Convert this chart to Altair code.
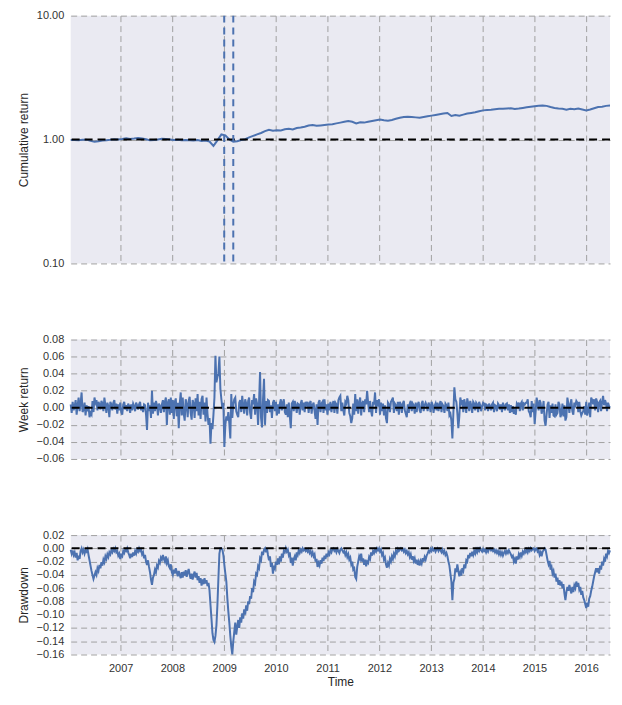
import altair as alt
import pandas as pd

# ---------------- data ----------------
WEEK_RETURN = [
    .004,-.006,.007,-.003,.002,.009,-.008,.003,.012,-.004,.005,.018,-.005,-.002,.006,-.009,.003,-.004,.002,-.011,
    -.006,-.008,.008,-.005,.012,.006,.009,-.003,.007,.004,-.002,.008,.005,-.004,.012,.003,-.006,.006,.002,-.011,
    .007,.004,-.003,.006,.009,-.002,.005,-.007,.004,-.003,.006,-.005,-.008,.004,.007,-.002,.003,-.004,.005,.002,
    -.006,.004,-.003,.005,.002,-.004,.006,.003,-.002,.004,.007,-.003,.002,-.005,.004,.003,-.008,-.026,.006,-.004,
    .003,-.012,.020,-.007,.006,-.004,.008,.003,-.009,.005,.002,-.006,.004,.009,-.005,.007,.012,-.020,.006,.010,
    -.008,.012,-.006,.009,-.013,.007,.011,-.010,.006,-.024,.005,.018,-.009,.012,-.007,-.015,.010,.004,-.011,.008,
    .013,-.006,-.014,.009,.005,-.012,.011,-.004,.016,-.009,.007,-.013,.010,.014,-.008,.006,-.016,.012,-.007,-.020,
    -.012,-.042,-.018,-.025,-.008,.012,.061,.030,.036,.040,.060,.022,.010,-.001,.006,-.046,-.020,-.010,-.015,-.005,
    -.018,-.036,.016,-.012,.004,.010,.012,-.004,-.008,-.011,.006,.009,-.005,.014,.003,-.007,.010,.005,-.009,.008,
    .012,-.006,-.013,.009,.004,.016,-.008,.011,.005,-.020,.007,.042,-.012,-.023,.010,.034,-.020,.008,-.006,.009,
    .008,-.005,.003,-.012,.006,.009,-.004,.007,-.009,.004,-.007,.005,.010,-.003,.006,.010,-.005,-.008,.004,-.011,
    .006,-.009,-.024,.005,.007,-.004,.008,.003,-.006,.005,.004,-.008,.005,.009,-.003,.006,-.005,.007,.004,.007,
    -.006,.005,.008,-.007,.003,.006,-.004,-.013,.004,-.020,.006,.009,-.005,.005,.007,-.006,.010,-.003,.004,-.008,
    .005,-.003,.007,-.005,.003,.008,-.006,.006,.004,-.007,.009,.012,.014,-.004,.006,-.003,-.009,.007,.005,.014,
    .009,-.006,-.010,-.018,-.012,.005,-.008,.016,-.004,.010,-.007,.006,.012,-.009,.005,.008,-.005,.010,.004,.020,
    .006,-.005,.008,-.004,-.010,.007,.004,.018,-.006,.009,.005,.010,-.008,.006,-.004,.005,-.009,.003,-.012,-.018,
    .006,.004,-.005,.007,.009,.012,-.006,.005,.003,-.004,.007,-.008,.007,.004,-.006,.005,.008,-.003,-.007,-.011,
    .004,-.006,.005,.008,-.004,.005,.003,-.007,.006,-.005,.004,.007,-.003,-.006,.005,.008,-.004,.003,.006,.003,
    -.004,.006,.003,-.005,.007,.004,-.006,.002,.005,-.003,.006,-.004,.003,.008,-.005,.004,.002,-.006,.005,.003,
    -.004,.006,-.009,-.007,-.015,-.036,-.006,.024,.010,.007,-.006,-.024,-.010,.012,.006,.009,-.005,.010,.004,-.006,
    .011,.005,-.004,.008,.003,-.006,.007,.005,-.003,.006,.004,-.005,.007,.003,-.004,.002,.006,.005,-.003,.004,
    .003,-.004,.005,.002,-.003,.004,.006,-.005,.003,.002,-.004,.005,.003,-.002,.004,-.005,.006,.002,-.003,.004,
    .005,-.003,.004,-.006,.003,-.005,.002,-.007,-.004,-.008,.005,.003,.006,-.004,.005,.007,-.003,.005,.004,.006,
    .006,.010,-.004,-.006,-.011,.008,-.005,.005,-.019,-.004,.012,.005,-.003,.009,.006,-.007,-.002,.008,-.015,-.021,
    -.008,.004,.007,-.012,.003,-.006,.005,-.009,-.010,.004,-.008,-.006,.007,.004,-.011,-.007,.005,-.010,.003,-.015,
    -.011,.012,.005,-.006,.004,.010,-.004,-.008,.006,.003,.008,.006,-.005,.007,-.004,-.009,-.006,-.004,.002,-.008,
    .007,-.009,-.004,.006,-.011,.012,.009,.004,.010,-.003,.011,.007,-.005,.006,.008,-.004,.007,.014,.003,.009,
    .005,-.004,.006,.002,.000,
]

DRAWDOWN = [
    -.002,-.008,-.003,-.010,-.006,-.014,-.007,-.018,-.011,-.016,-.004,.000,-.006,-.002,-.008,-.003,-.005,-.001,-.010,-.018,
    -.026,-.034,-.040,-.046,-.041,-.036,-.040,-.030,-.034,-.025,-.030,-.021,-.026,-.017,-.021,-.012,-.016,-.009,-.013,-.006,
    -.009,-.003,-.006,-.001,-.004,.000,-.006,-.004,-.011,-.008,-.016,-.010,-.012,-.004,-.007,-.002,-.004,.000,-.006,-.010,
    -.015,-.008,-.013,-.006,-.011,-.004,-.008,-.002,-.005,.000,-.004,-.002,-.009,-.006,-.015,-.010,-.020,-.025,-.018,-.028,
    -.036,-.047,-.055,-.044,-.040,-.032,-.036,-.026,-.029,-.019,-.022,-.014,-.017,-.010,-.016,-.020,-.012,-.022,-.018,-.027,
    -.030,-.024,-.036,-.040,-.032,-.038,-.030,-.036,-.042,-.034,-.040,-.045,-.036,-.044,-.035,-.041,-.033,-.043,-.036,-.031,
    -.040,-.046,-.038,-.047,-.040,-.035,-.044,-.037,-.048,-.042,-.052,-.045,-.056,-.047,-.054,-.045,-.053,-.048,-.057,-.052,
    -.063,-.085,-.106,-.128,-.138,-.141,-.132,-.116,-.085,-.045,-.008,.000,.000,-.002,-.010,-.025,-.038,-.050,-.075,-.095,
    -.112,-.132,-.148,-.160,-.140,-.126,-.112,-.130,-.118,-.108,-.120,-.104,-.112,-.098,-.106,-.092,-.100,-.086,-.094,-.080,
    -.084,-.072,-.076,-.060,-.066,-.050,-.053,-.038,-.040,-.027,-.030,-.015,-.018,-.005,-.010,-.002,.000,-.006,.000,-.010,
    -.018,-.012,-.028,-.022,-.038,-.026,-.030,-.020,-.025,-.015,-.024,-.012,-.020,-.008,-.014,-.004,-.006,.000,-.005,-.002,
    -.010,-.006,-.022,-.014,-.026,-.016,-.012,-.018,-.006,-.010,-.003,-.007,-.002,-.005,.000,-.003,-.001,-.004,-.002,-.005,
    -.002,-.007,-.004,-.010,-.006,-.012,-.009,-.020,-.016,-.028,-.022,-.026,-.018,-.023,-.014,-.019,-.011,-.016,-.008,-.013,
    -.006,-.009,-.003,-.006,-.001,.000,-.004,-.002,-.006,-.001,-.004,-.007,-.002,.000,-.003,-.006,-.004,-.010,-.006,-.013,
    -.009,-.017,-.014,-.024,-.020,-.032,-.030,-.043,-.046,-.028,-.020,-.012,-.016,-.008,-.020,-.015,-.025,-.017,-.027,-.020,
    -.022,-.013,-.016,-.006,-.011,-.004,-.007,-.002,-.005,.000,-.003,.000,-.005,-.002,-.010,-.007,-.017,-.014,-.024,-.029,
    -.022,-.026,-.016,-.020,-.012,-.016,-.008,-.012,-.004,-.007,-.001,-.004,-.002,.000,-.003,-.001,-.005,-.002,-.007,-.004,
    -.009,-.006,-.013,-.009,-.017,-.012,-.019,-.015,-.023,-.017,-.025,-.020,-.026,-.019,-.023,-.015,-.020,-.013,-.017,-.011,
    -.008,-.004,-.006,-.001,-.004,.000,-.003,-.001,-.005,-.002,.000,-.004,-.001,-.003,-.006,-.002,-.007,-.004,-.010,-.007,
    -.012,-.020,-.026,-.038,-.050,-.078,-.052,-.046,-.030,-.036,-.024,-.034,-.042,-.036,-.041,-.030,-.034,-.024,-.030,-.018,
    -.020,-.010,-.015,-.007,-.012,-.005,-.010,-.004,-.008,-.002,-.006,-.001,-.004,.000,-.003,-.005,-.001,-.004,-.002,-.006,
    -.002,-.005,-.001,.000,-.003,-.001,-.004,-.002,-.006,-.003,-.007,-.004,-.009,-.005,-.010,-.006,-.011,-.007,-.004,-.008,
    -.004,-.007,-.003,-.006,-.009,-.013,-.011,-.020,-.016,-.023,-.012,-.017,-.009,-.013,-.006,-.011,-.005,-.008,-.003,-.006,
    -.002,-.006,-.001,-.004,.000,-.003,-.001,.000,-.004,-.001,.000,-.005,-.003,-.010,-.006,-.012,-.005,-.003,.000,-.002,
    -.010,-.018,-.024,-.019,-.032,-.028,-.038,-.034,-.044,-.038,-.050,-.044,-.055,-.048,-.056,-.050,-.060,-.054,-.068,-.078,
    -.066,-.058,-.064,-.055,-.062,-.068,-.058,-.066,-.056,-.060,-.050,-.058,-.052,-.062,-.058,-.070,-.064,-.074,-.078,-.084,
    -.090,-.082,-.088,-.076,-.072,-.064,-.058,-.050,-.042,-.036,-.030,-.036,-.030,-.038,-.026,-.032,-.020,-.026,-.016,-.020,
    -.008,-.012,-.004,-.007,-.003,
]

CUM_RETURN = [
    .990,.992,.985,.995,.998,.975,.958,.968,.980,.988,
    .995,1.005,1.000,1.010,1.025,1.012,1.020,1.030,1.020,1.005,
    .985,.990,1.000,1.015,1.010,1.000,.990,.995,.985,.992,
    .988,.982,.990,.975,.980,.965,.890,.985,1.100,1.080,
    1.000,.960,.970,.990,1.005,1.040,1.070,1.100,1.130,1.170,
    1.200,1.180,1.190,1.185,1.210,1.220,1.205,1.240,1.250,1.270,
    1.300,1.310,1.290,1.300,1.310,1.320,1.330,1.350,1.370,1.390,
    1.410,1.390,1.350,1.380,1.370,1.390,1.410,1.430,1.450,1.430,
    1.420,1.440,1.470,1.500,1.520,1.530,1.520,1.510,1.500,1.520,
    1.540,1.560,1.580,1.600,1.620,1.640,1.550,1.580,1.560,1.590,
    1.620,1.640,1.660,1.690,1.720,1.730,1.740,1.755,1.770,1.770,
    1.780,1.790,1.765,1.780,1.800,1.820,1.840,1.860,1.870,1.880,
    1.870,1.830,1.800,1.780,1.770,1.740,1.770,1.760,1.780,1.750,
    1.720,1.750,1.790,1.830,1.840,1.870,1.880,
]

EVENT_DATES = ["2009-01-01", "2009-03-06"]
YEARS = list(range(2007, 2017))
CUM_TICKS = [0.1, 1.0, 10.0]
WEEK_TICKS = [-0.06, -0.04, -0.02, 0.0, 0.02, 0.04, 0.06, 0.08]
DD_TICKS = [-0.16, -0.14, -0.12, -0.10, -0.08, -0.06, -0.04, -0.02, 0.0, 0.02]

START = "2006-01-13"
END = (2016, 6, 17)

BLUE = "#4C72B0"
W = 542

df_week = pd.DataFrame({"date": pd.date_range(START, periods=len(WEEK_RETURN), freq="7D"),
                        "ret": WEEK_RETURN})
df_dd = pd.DataFrame({"date": pd.date_range(START, periods=len(DRAWDOWN), freq="7D"),
                      "dd": DRAWDOWN})
df_cum = pd.DataFrame({"date": pd.date_range(START, periods=len(CUM_RETURN), freq="28D"),
                       "cum": CUM_RETURN})
df_events = pd.DataFrame({"date": pd.to_datetime(EVENT_DATES)})

xscale = alt.Scale(domain=[alt.DateTime(year=2006, month=1, date=13),
                           alt.DateTime(year=END[0], month=END[1], date=END[2])], nice=False)
year_vals = [alt.DateTime(year=y, month=1, date=1) for y in YEARS]

hidden_x = alt.Axis(values=year_vals, tickCount=len(YEARS), labels=False, ticks=False,
                    title=None, grid=True)
shown_x = alt.Axis(values=year_vals, tickCount=len(YEARS), format="%Y", title="Time",
                   grid=True, labelPadding=8, titlePadding=3)


def y_axis(vals, title):
    return alt.Axis(values=vals, tickCount=len(vals), format=".2f", title=title,
                    labelOverlap=False)


def zero_rule(val):
    return alt.Chart(pd.DataFrame({"y": [val]})).mark_rule(
        color="black", strokeDash=[8, 5], strokeWidth=2
    ).encode(y="y:Q")


# ---- top panel: cumulative return ----
cum_line = alt.Chart(df_cum).mark_line(color=BLUE, strokeWidth=2).encode(
    x=alt.X("date:T", scale=xscale, axis=hidden_x),
    y=alt.Y("cum:Q", scale=alt.Scale(type="log", domain=[0.1, 10], nice=False),
            axis=y_axis(CUM_TICKS, "Cumulative return")),
)
events = alt.Chart(df_events).mark_rule(color=BLUE, strokeDash=[7, 5], strokeWidth=2).encode(
    x="date:T"
)
top = alt.layer(cum_line, zero_rule(1.0), events).properties(width=W, height=249)

# ---- middle panel: weekly returns ----
week_line = alt.Chart(df_week).mark_line(color=BLUE, strokeWidth=2).encode(
    x=alt.X("date:T", scale=xscale, axis=hidden_x),
    y=alt.Y("ret:Q", scale=alt.Scale(domain=[-0.06, 0.08], nice=False, zero=False),
            axis=y_axis(WEEK_TICKS, "Week return")),
)
mid = alt.layer(week_line, zero_rule(0.0)).properties(width=W, height=120)

# ---- bottom panel: drawdown ----
dd_line = alt.Chart(df_dd).mark_line(color=BLUE, strokeWidth=2).encode(
    x=alt.X("date:T", scale=xscale, axis=shown_x),
    y=alt.Y("dd:Q", scale=alt.Scale(domain=[-0.16, 0.02], nice=False, zero=False),
            axis=y_axis(DD_TICKS, "Drawdown")),
)
bot = alt.layer(dd_line, zero_rule(0.0)).properties(width=W, height=120)

chart = alt.vconcat(top, mid, bot, spacing=76.5, bounds="flush").properties(
    padding={"left": 9, "top": 0, "right": 0, "bottom": 4}
).configure_view(
    fill="#EAEAF2", strokeWidth=0
).configure_axis(
    grid=True, gridColor="#A0A0A0", gridDash=[6, 4], gridWidth=1,
    domain=False, ticks=False,
    labelFont="Liberation Sans", labelFontSize=11, labelColor="#333333",
    titleFont="Liberation Sans", titleFontSize=12, titleColor="#262626",
    titleFontWeight="normal", labelPadding=7, titlePadding=6,
)

chart.save("out.html", embed_options={"renderer": "svg", "actions": False})
